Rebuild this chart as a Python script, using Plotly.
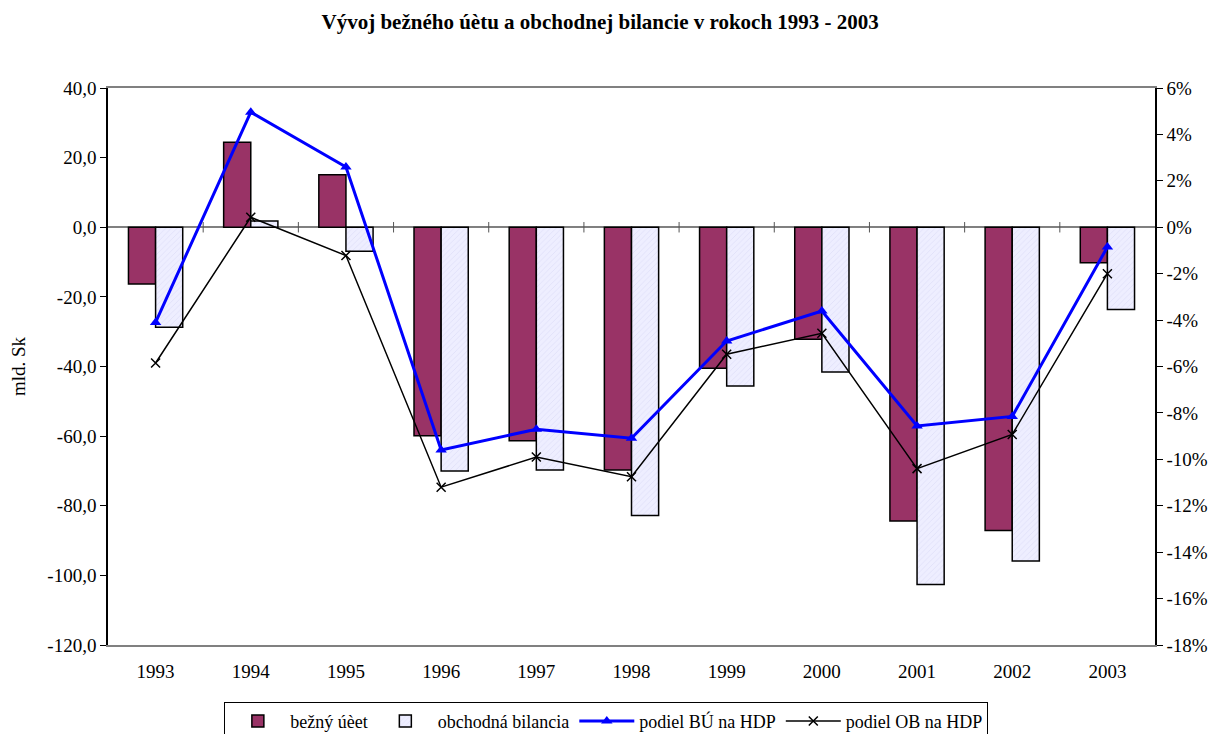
import plotly.graph_objects as go

years = ["1993", "1994", "1995", "1996", "1997", "1998", "1999", "2000", "2001", "2002", "2003"]
bezny_ucet = [-16.3, 24.4, 15.1, -59.9, -61.3, -69.7, -40.5, -32.2, -84.4, -87.1, -10.2]
obchodna_bilancia = [-28.7, 1.8, -6.9, -70.0, -69.7, -82.8, -45.6, -41.6, -102.6, -95.9, -23.6]
podiel_bu = [-4.1, 4.96, 2.6, -9.6, -8.7, -9.09, -4.9, -3.61, -8.56, -8.15, -0.85]
podiel_ob = [-5.85, 0.43, -1.22, -11.2, -9.9, -10.75, -5.47, -4.57, -10.4, -8.93, -2.0]

left_ticks = [40, 20, 0, -20, -40, -60, -80, -100, -120]
left_ticktext = ["40,0", "20,0", "0,0", "-20,0", "-40,0", "-60,0", "-80,0", "-100,0", "-120,0"]
right_ticks = [6, 4, 2, 0, -2, -4, -6, -8, -10, -12, -14, -16, -18]
right_ticktext = ["6%", "4%", "2%", "0%", "-2%", "-4%", "-6%", "-8%", "-10%", "-12%", "-14%", "-16%", "-18%"]

FONT = "Liberation Serif, Times New Roman, serif"
FS = 19

fig = go.Figure()
fig.add_trace(go.Bar(
    x=years, y=bezny_ucet, name="bežný úèet",
    marker=dict(color="#993366", line=dict(color="#000000", width=1.5)),
))
fig.add_trace(go.Bar(
    x=years, y=obchodna_bilancia, name="obchodná bilancia",
    marker=dict(color="#EAEAFC", line=dict(color="#000000", width=1.5),
                pattern=dict(shape="/", fgcolor="#C8C8EE", bgcolor="#EEEEFF", size=4, solidity=0.15)),
))
fig.add_trace(go.Scatter(
    x=years, y=podiel_bu, name="podiel BÚ na HDP", yaxis="y2",
    mode="lines+markers",
    line=dict(color="#0000FF", width=3),
    marker=dict(symbol="triangle-up", size=10, color="#0000FF"),
))
fig.add_trace(go.Scatter(
    x=years, y=podiel_ob, name="podiel OB na HDP", yaxis="y2",
    mode="lines+markers",
    line=dict(color="#000000", width=1.5),
    marker=dict(symbol="x-thin", size=9, color="#000000", line=dict(color="#000000", width=1.5)),
))

# category tick marks crossing the zero line
for i in range(len(years) - 1):
    fig.add_shape(type="line", xref="x", yref="y", x0=i + 0.5, x1=i + 0.5, y0=-1.5, y1=1.5,
                  line=dict(color="#555555", width=1))

fig.update_layout(
    width=1216, height=734,
    margin=dict(l=100, r=69, t=80, b=97, autoexpand=False),
    paper_bgcolor="white", plot_bgcolor="white",
    font=dict(family=FONT, size=FS, color="#000000"),
    title=dict(text="<b>Vývoj bežného úètu a obchodnej bilancie v rokoch 1993 - 2003</b>",
               x=0.487, xanchor="center", y=0.981, yanchor="middle",
               font=dict(family=FONT, size=21)),
    barmode="group", bargap=0.43, bargroupgap=0,
    showlegend=True,
    legend=dict(orientation="h", x=0.476, xanchor="center", y=-0.102, yanchor="top",
                bordercolor="#000000", borderwidth=1, font=dict(family=FONT, size=18),
                itemwidth=55, tracegroupgap=0),
    xaxis=dict(
        range=[-0.5, len(years) - 0.5],
        showline=True, linecolor="#808080", linewidth=1.5, mirror=True, automargin=False,
        ticks="", showgrid=False, tickfont=dict(size=FS), ticklabelstandoff=8,
    ),
    yaxis=dict(
        range=[-120, 40], tickvals=left_ticks, ticktext=left_ticktext, automargin=False,
        showline=True, linecolor="#000000", linewidth=1.5,
        ticks="outside", ticklen=6, tickcolor="#000000", tickfont=dict(size=FS),
        showgrid=False, zeroline=True, zerolinecolor="#808080", zerolinewidth=1.5,
        title=dict(text="mld. Sk", font=dict(size=FS), standoff=20),
    ),
    yaxis2=dict(
        range=[-18, 6], tickvals=right_ticks, ticktext=right_ticktext, automargin=False,
        overlaying="y", side="right",
        showline=True, linecolor="#000000", linewidth=1.5,
        ticks="outside", ticklen=6, tickcolor="#000000", tickfont=dict(size=FS),
        showgrid=False, zeroline=False,
    ),
)

fig.write_html("out.html")
